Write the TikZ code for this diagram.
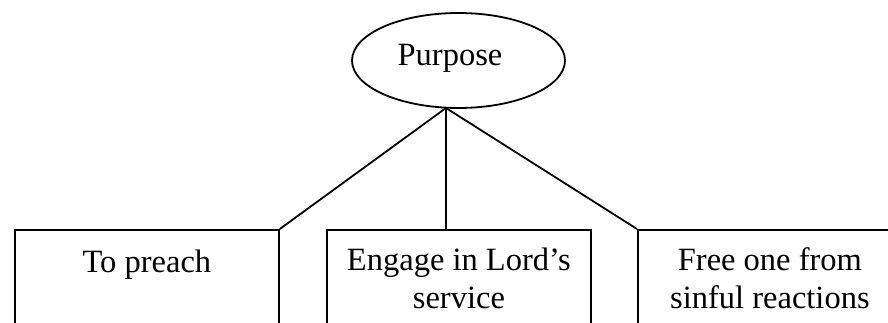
\documentclass[tikz,border=0pt]{standalone}
\usepackage{fontspec}
\setmainfont{Liberation Serif}
\usetikzlibrary{shapes.geometric}
\begin{document}
\begin{tikzpicture}[x=1pt,y=1pt,
  link/.style={line width=1.8pt},
  bubble/.style={draw,line width=1.8pt,ellipse,minimum width=213pt,minimum height=95pt,inner sep=0pt},
  boxshape/.style={draw,line width=1.8pt,rectangle,minimum width=264pt,minimum height=160pt,inner sep=0pt,anchor=north west},
  txt/.style={font=\fontsize{32.5}{38}\selectfont,align=center,inner sep=0pt,anchor=base}]
\useasboundingbox (0,0) rectangle (888,322);
\clip (0,0) rectangle (888,322);
% top node
\node[bubble] (purpose) at (458.5,261.5) {};
\node[txt] (purposetext) at (450,257) {Purpose};
\coordinate (J) at (446,214);
% three boxes, running past the lower edge
\node[boxshape] (left) at (14,93) {};
\node[boxshape] (mid) at (326,93) {};
\node[boxshape] (right) at (637,93) {};
% labels (base anchor of a two-line node sits on its last line)
\node[txt] (lefttext) at ([yshift=-43pt]left.north) {To preach};
\node[txt] (midtext) at ([yshift=-79pt]mid.north) {Engage in Lord’s\\service};
\node[txt] (righttext) at ([yshift=-79pt]right.north) {Free one from\\sinful reactions};
% connectors
\draw[link] (J) -- (left.north east);
\draw[link] (J) -- (J |- mid.north);
\draw[link] (J) -- (right.north west);
\end{tikzpicture}
\end{document}
